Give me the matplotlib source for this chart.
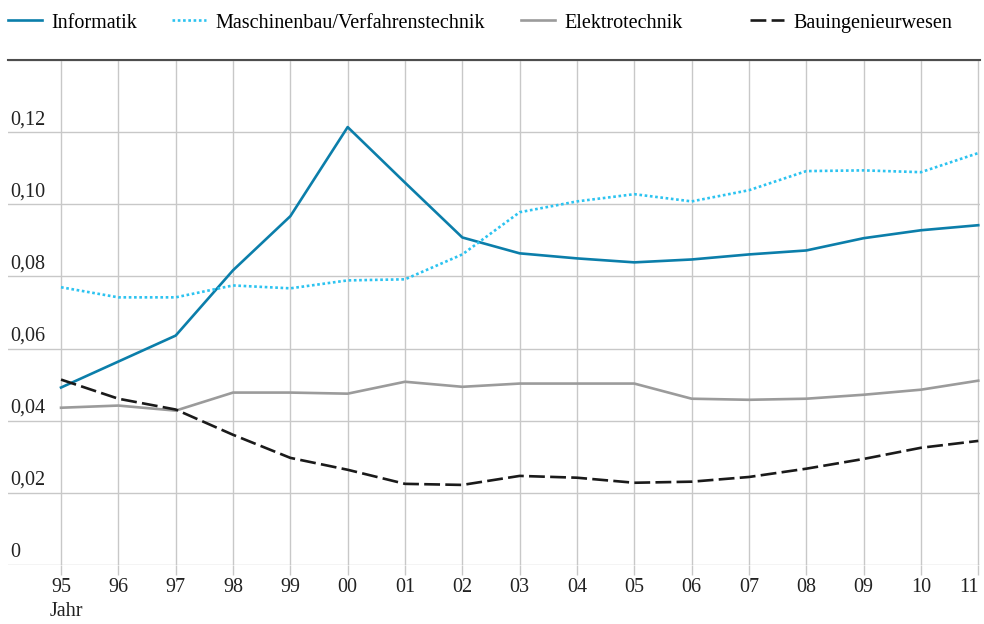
import numpy as np
import matplotlib.pyplot as plt

plt.rcParams['font.family'] = ['Liberation Serif', 'DejaVu Serif']

years = ['95', '96', '97', '98', '99', '00', '01', '02', '03',
         '04', '05', '06', '07', '08', '09', '10', '11']

informatik = [0.0492, 0.0564, 0.0636, 0.0817, 0.0967, 0.1214, 0.1060, 0.0908, 0.0864,
              0.0850, 0.0839, 0.0847, 0.0861, 0.0872, 0.0906, 0.0928, 0.0942]
maschinenbau = [0.0770, 0.0742, 0.0742, 0.0775, 0.0767, 0.0789, 0.0792, 0.0861, 0.0978,
                0.1008, 0.1028, 0.1008, 0.1039, 0.1092, 0.1094, 0.1089, 0.1142]
elektro = [0.0436, 0.0442, 0.0428, 0.0478, 0.0478, 0.0475, 0.0508, 0.0494, 0.0503,
           0.0503, 0.0503, 0.0461, 0.0458, 0.0461, 0.0472, 0.0486, 0.0511]
bau = [0.0514, 0.0461, 0.0431, 0.0361, 0.0297, 0.0264, 0.0225, 0.0222, 0.0247,
       0.0242, 0.0228, 0.0231, 0.0244, 0.0267, 0.0294, 0.0325, 0.0344]

yticks = [0, 0.02, 0.04, 0.06, 0.08, 0.10, 0.12]
ylabels = ['0', '0,02', '0,04', '0,06', '0,08', '0,10', '0,12']

FS = 14.5
W, H = 984, 624
fig = plt.figure(figsize=(W / 100, H / 100), dpi=100)
ax = fig.add_axes([8 / W, 1 - 565 / H, 972 / W, 505 / H])

x = np.arange(len(years))
l1, = ax.plot(x, informatik, color='#0b7eaa', lw=1.9, label='Informatik')
l2, = ax.plot(x, maschinenbau, color='#2cc3f0', lw=1.9, linestyle=(0, (1, 1)),
              label='Maschinenbau/Verfahrenstechnik')
l3, = ax.plot(x, elektro, color='#9b9b9b', lw=1.9, label='Elektrotechnik')
l4, = ax.plot(x, bau, color='#1a1a1a', lw=1.9, linestyle=(0, (6, 2)),
              label='Bauingenieurwesen')

ax.set_xlim(-0.925, 16.03)
ax.set_ylim(0, 0.14)

ax.set_xticks(x, years, fontsize=FS)
ax.get_xticklabels()[-1].set_horizontalalignment('right')
ax.get_xticklabels()[-1].set_x(16.1)
ax.set_yticks(yticks + [0.14])
ax.set_yticklabels([])
ax.tick_params(axis='y', length=0)
ax.tick_params(axis='x', length=7, color='#c8c8c8', width=1, pad=2, labelcolor='#222222')
ax.grid(True, color='#c8c8c8', lw=1)
ax.set_axisbelow(True)

for s in ['left', 'right', 'bottom']:
    ax.spines[s].set_visible(False)
ax.spines['top'].set_color('#4d4d4d')
ax.spines['top'].set_linewidth(1.5)

for v, lab in zip(yticks, ylabels):
    ax.annotate(lab, xy=(0, v), xycoords=('axes fraction', 'data'),
                xytext=(2, 3), textcoords='offset pixels',
                ha='left', va='bottom', fontsize=FS, color='#222222')

fig.text(50 / W, 1 - 611 / H, 'Jahr', fontsize=FS, va='center', ha='left', color='#222222')

# legend entries placed individually along the top
for line, px in zip([l1, l2, l3, l4], [8, 172, 521, 750]):
    fig.legend(handles=[line], loc='center left', bbox_to_anchor=(px / W, 1 - 23 / H),
               frameon=False, fontsize=FS, handlelength=1.7, handletextpad=0.45,
               borderpad=0, borderaxespad=0)

fig.savefig('out.png', dpi=100)
